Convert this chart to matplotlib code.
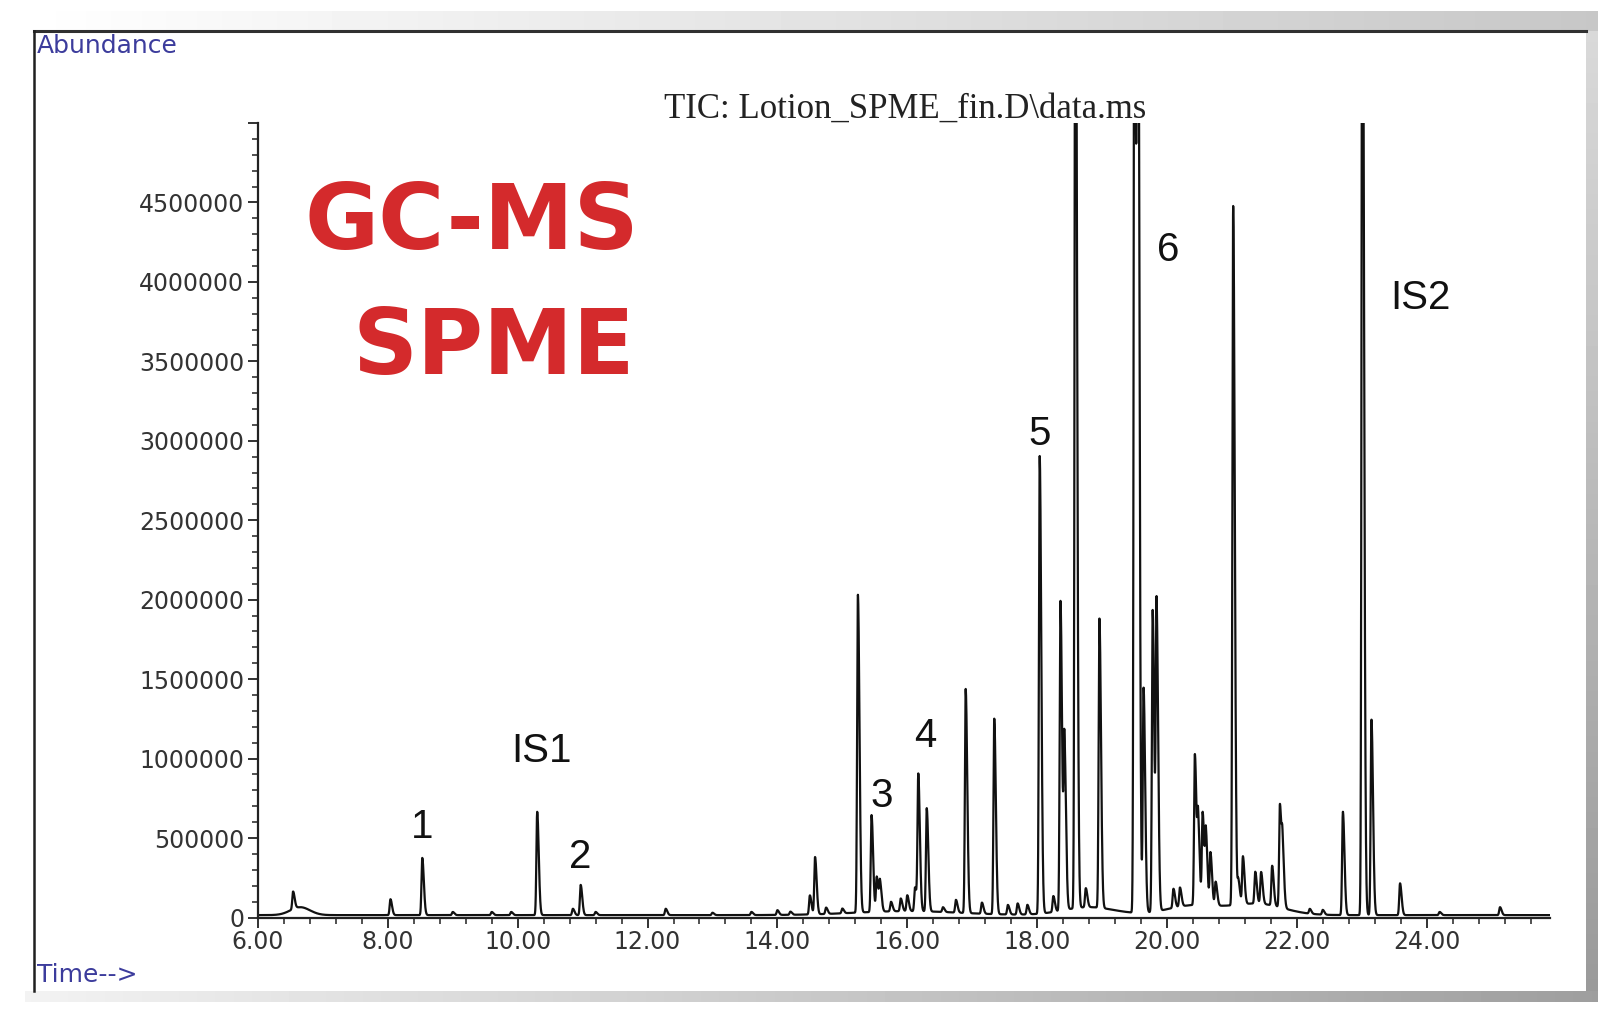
import numpy as np
import matplotlib
matplotlib.use("Agg")
import matplotlib.pyplot as plt
from matplotlib.ticker import MultipleLocator, FuncFormatter

# peaks: retention time (min) and abundance
peak_rt = [6.54, 8.04, 8.53, 9.0, 9.6, 9.9, 10.30, 10.85, 10.97, 11.2,
           12.28, 13.0, 13.6, 14.0, 14.2, 14.50, 14.58, 14.75, 15.0, 15.24,
           15.45, 15.53, 15.58, 15.75, 15.9, 16.0, 16.12, 16.17, 16.30, 16.55,
           16.75, 16.90, 17.15, 17.34, 17.55, 17.7, 17.85, 18.04, 18.25, 18.36,
           18.42, 18.59, 18.75, 18.96, 19.50, 19.55, 19.64, 19.78, 19.84, 20.1,
           20.2, 20.43, 20.48, 20.55, 20.60, 20.67, 20.75, 21.02, 21.10, 21.17,
           21.36, 21.45, 21.62, 21.74, 21.78, 22.2, 22.4, 22.71, 23.01, 23.15,
           23.59, 24.2, 25.13]
peak_height = [110000, 100000, 360000, 20000, 20000, 20000, 650000, 40000, 190000, 20000,
               40000, 15000, 20000, 30000, 20000, 120000, 360000, 40000, 30000, 2000000,
               610000, 220000, 180000, 60000, 80000, 100000, 150000, 850000, 650000, 30000,
               80000, 1410000, 70000, 1230000, 60000, 70000, 60000, 2880000, 100000, 1950000,
               1050000, 7000000, 120000, 1820000, 7000000, 7000000, 1410000, 1900000, 1900000, 120000,
               120000, 950000, 500000, 580000, 430000, 330000, 150000, 4400000, 150000, 300000,
               200000, 200000, 250000, 650000, 330000, 30000, 30000, 650000, 7000000, 1230000,
               200000, 20000, 50000]

# slow baseline humps: centre, height, width
hump_rt = [6.65, 16.0, 18.8, 20.4, 21.4]
hump_height = [50000, 25000, 50000, 60000, 70000]
hump_width = [0.15, 0.8, 0.4, 0.4, 0.4]

# peak labels
label_text = ["1", "IS1", "2", "3", "4", "5", "6", "IS2"]
label_rt = [8.53, 10.37, 10.97, 15.60, 16.27, 18.04, 20.02, 23.90]
label_y = [568000, 1047000, 381000, 763000, 1144000, 3045000, 4200000, 3900000]

t = np.arange(6.0, 25.9, 0.002)
signal = np.full_like(t, 15000.0)
for rt, h in zip(peak_rt, peak_height):
    s = np.where(t < rt, 0.012, 0.024)
    signal += h * np.exp(-0.5 * ((t - rt) / s) ** 2)
for rt, h, w in zip(hump_rt, hump_height, hump_width):
    signal += h * np.exp(-0.5 * ((t - rt) / w) ** 2)

W, H = 1611, 1017
fig = plt.figure(figsize=(W / 100, H / 100), dpi=100)
fig.patch.set_facecolor("white")

# window frame drawn in pixel coordinates
bg = fig.add_axes([0, 0, 1, 1], zorder=0)
bg.axis("off")
bg.imshow(np.linspace(1.0, 0.78, 256).reshape(1, -1), cmap="gray", vmin=0, vmax=1,
          extent=[25, 1598, 31, 11], aspect="auto")
bg.imshow(np.linspace(0.85, 0.6, 256).reshape(-1, 1), cmap="gray", vmin=0, vmax=1,
          extent=[1586, 1598, 1002, 31], aspect="auto")
bg.imshow(np.linspace(0.95, 0.62, 256).reshape(1, -1), cmap="gray", vmin=0, vmax=1,
          extent=[25, 1598, 1002, 991], aspect="auto")
bg.plot([34, 1586], [31, 31], color="#303030", lw=2.2)
bg.plot([34, 34], [31, 991], color="#202020", lw=1.8)
bg.set_xlim(0, W)
bg.set_ylim(H, 0)

bg.text(37, 46, "Abundance", color="#3c3c9c", fontsize=18, family="DejaVu Sans",
        va="center", ha="left")
bg.text(37, 975, "Time-->", color="#3c3c9c", fontsize=18, family="DejaVu Sans",
        va="center", ha="left")
bg.text(905, 109, "TIC: Lotion_SPME_fin.D\\data.ms", color="#222222", fontsize=25,
        family="Liberation Serif", va="center", ha="center")
bg.text(639, 224, "GC-MS", color="#d42a2c", fontsize=65, family="DejaVu Sans",
        weight="bold", va="center", ha="right")
bg.text(635, 349, "SPME", color="#d42a2c", fontsize=65, family="DejaVu Sans",
        weight="bold", va="center", ha="right")

ax = fig.add_axes([258 / W, 1 - 917.5 / H, 1292 / W, 794.5 / H], zorder=1)
ax.patch.set_alpha(0)
ax.plot(t, signal, color="#111111", lw=1.6)
ax.set_xlim(6.0, 25.9)
ax.set_ylim(0, 5000000)

for s in ["top", "right"]:
    ax.spines[s].set_visible(False)
ax.spines["left"].set_color("#222222")
ax.spines["bottom"].set_color("#222222")
ax.spines["left"].set_linewidth(1.6)
ax.spines["bottom"].set_linewidth(1.6)

ax.xaxis.set_major_locator(MultipleLocator(2))
ax.xaxis.set_minor_locator(MultipleLocator(0.4))
ax.yaxis.set_major_locator(MultipleLocator(500000))
ax.yaxis.set_minor_locator(MultipleLocator(100000))
ax.xaxis.set_major_formatter(FuncFormatter(lambda v, p: f"{v:.2f}" if v < 25 else ""))
ax.yaxis.set_major_formatter(FuncFormatter(lambda v, p: f"{int(v)}" if v < 4.9e6 else ""))
ax.tick_params(axis="both", which="major", direction="out", length=7, width=1.3,
               labelsize=17, colors="#222222", labelcolor="#333333")
ax.tick_params(axis="both", which="minor", direction="out", length=4, width=1.1,
               colors="#222222")
ax.tick_params(axis="x", pad=2)
ax.tick_params(axis="y", pad=3)
for lab in ax.get_xticklabels() + ax.get_yticklabels():
    lab.set_family("DejaVu Sans")

for txt, x, y in zip(label_text, label_rt, label_y):
    ax.text(x, y, txt, fontsize=29, family="Liberation Sans", color="#111111",
            ha="center", va="center")

fig.savefig("out.png", dpi=100, facecolor="white")
